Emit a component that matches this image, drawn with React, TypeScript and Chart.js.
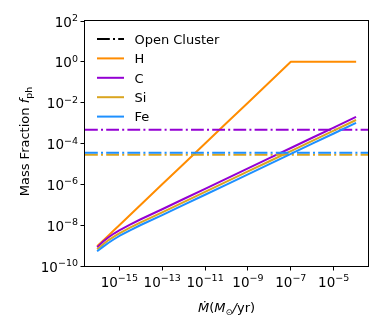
import React, { useEffect, useRef } from "react";
import { Chart, registerables } from "chart.js";

Chart.register(...registerables);

// ---------- data ----------
const mdot = [
  1e-16, 1.78e-16, 3.16e-16, 5.62e-16, 1e-15, 3.16e-15, 1e-14, 1e-13, 1e-12,
  1e-11, 1e-10, 1e-9, 1e-8, 1e-7, 1e-6, 1e-5, 1e-4,
];
const fH = [
  1e-9, 1.78e-9, 3.16e-9, 5.62e-9, 1e-8, 3.16e-8, 1e-7, 1e-6, 1e-5, 1e-4,
  1e-3, 1e-2, 1e-1, 1, 1, 1, 1,
];
const fC = [
  8.91e-10, 1.58e-9, 2.57e-9, 3.89e-9, 5.62e-9, 1.07e-8, 1.95e-8, 6.03e-8,
  1.91e-7, 6.03e-7, 1.91e-6, 6.03e-6, 1.91e-5, 6.03e-5, 1.91e-4, 6.03e-4,
  1.91e-3,
];
const fSi = [
  7.08e-10, 1.17e-9, 1.86e-9, 2.75e-9, 3.98e-9, 7.59e-9, 1.38e-8, 4.27e-8,
  1.35e-7, 4.27e-7, 1.35e-6, 4.27e-6, 1.35e-5, 4.27e-5, 1.35e-4, 4.27e-4,
  1.35e-3,
];
const fFe = [
  5.62e-10, 8.91e-10, 1.38e-9, 2.04e-9, 2.95e-9, 5.62e-9, 1.02e-8, 3.09e-8,
  9.77e-8, 3.09e-7, 9.77e-7, 3.09e-6, 9.77e-6, 3.09e-5, 9.77e-5, 3.09e-4,
  9.77e-4,
];
const openClusterC = 4.7e-4;
const openClusterSi = 2.8e-5;
const openClusterFe = 3.5e-5;

const xLimits = [2.51e-17, 3.98e-4];
const yLimits = [1e-10, 1e2];
const xTickExponents = [-15, -13, -11, -9, -7, -5];
const yTickExponents = [-10, -8, -6, -4, -2, 0, 2];
const legendLabels = ["Open Cluster", "H", "C", "Si", "Fe"];

// ---------- styles ----------
const COLORS = {
  H: "#ff8c00",
  C: "#9400d3",
  Si: "#daa520",
  Fe: "#1e90ff",
};
const DASHDOT = [12.8, 3.2, 2, 3.2];
const FONT = '"DejaVu Sans"';
const W = 382;
const H = 334;

type Run = { t: string; font: string; dy?: number };

function drawRuns(
  ctx: CanvasRenderingContext2D,
  runs: Run[],
  x: number,
  y: number,
  align: "left" | "center" | "right"
) {
  let w = 0;
  for (const r of runs) {
    ctx.font = r.font;
    w += ctx.measureText(r.t).width;
  }
  let cx = align === "left" ? x : align === "center" ? x - w / 2 : x - w;
  ctx.textAlign = "left";
  ctx.textBaseline = "alphabetic";
  for (const r of runs) {
    ctx.font = r.font;
    ctx.fillText(r.t, cx, y + (r.dy || 0));
    cx += ctx.measureText(r.t).width;
  }
}

function expText(e: number) {
  return (e < 0 ? "\u2212" : "") + String(Math.abs(e));
}

function powerRuns(e: number): Run[] {
  return [
    { t: "10", font: `13.5px ${FONT}` },
    { t: expText(e), font: `9.5px ${FONT}`, dy: -5.5 },
  ];
}

const decorPlugin = {
  id: "decor",
  afterDatasetsDraw(chart: any) {
    const ctx: CanvasRenderingContext2D = chart.ctx;
    const { left, right, top, bottom } = chart.chartArea;
    ctx.save();
    ctx.strokeStyle = "#000";
    ctx.lineWidth = 1;
    ctx.strokeRect(left - 0.5, top - 0.5, right - left + 1, bottom - top + 1);
    ctx.restore();
  },
  afterDraw(chart: any) {
    const ctx: CanvasRenderingContext2D = chart.ctx;
    const xs = chart.scales.x;
    const ys = chart.scales.y;
    const { left, right, top, bottom } = chart.chartArea;
    ctx.save();
    ctx.fillStyle = "#000";

    // x tick labels
    for (const e of xTickExponents) {
      const px = xs.getPixelForValue(Math.pow(10, e));
      drawRuns(ctx, powerRuns(e), px, bottom + 20.5, "center");
    }
    // y tick labels
    for (const e of yTickExponents) {
      const py = ys.getPixelForValue(Math.pow(10, e));
      drawRuns(ctx, powerRuns(e), left - 7, py + 5.5, "right");
    }

    // x axis title
    const it = `italic 13px ${FONT}`;
    const rm = `13px ${FONT}`;
    drawRuns(
      ctx,
      [
        { t: "\u1E40", font: it },
        { t: "(", font: rm },
        { t: "M", font: it },
        { t: "\u2299", font: `8.5px ${FONT}`, dy: 2.5 },
        { t: "/", font: it },
        { t: "yr", font: rm },
        { t: ")", font: rm },
      ],
      (left + right) / 2,
      312,
      "center"
    );

    // y axis title (rotated)
    ctx.save();
    ctx.translate(29, (top + bottom) / 2 - 2);
    ctx.rotate(-Math.PI / 2);
    drawRuns(
      ctx,
      [
        { t: "Mass Fraction ", font: rm },
        { t: "f", font: it },
        { t: "ph", font: `9.5px ${FONT}`, dy: 3 },
      ],
      0,
      0,
      "center"
    );
    ctx.restore();

    // legend
    const handleX0 = 97;
    const handleX1 = 124;
    const textX = 134.4;
    const rowY0 = 39;
    const rowStep = 19.4;
    const legendColors = ["#000", COLORS.H, COLORS.C, COLORS.Si, COLORS.Fe];
    legendLabels.forEach((label, i) => {
      const y = rowY0 + rowStep * i;
      ctx.save();
      ctx.strokeStyle = legendColors[i];
      ctx.lineWidth = 2;
      if (i === 0) {
        ctx.setLineDash(DASHDOT);
        ctx.lineCap = "butt";
      } else {
        ctx.lineCap = "butt";
      }
      ctx.beginPath();
      ctx.moveTo(handleX0, y);
      ctx.lineTo(handleX1, y);
      ctx.stroke();
      ctx.restore();
      ctx.fillStyle = "#000";
      drawRuns(ctx, [{ t: label, font: `13px ${FONT}` }], textX, y + 4.7, "left");
    });

    ctx.restore();
  },
};

function lineData(ys: number[]) {
  return mdot.map((x, i) => ({ x, y: ys[i] }));
}
function hLine(y: number) {
  return [
    { x: xLimits[0], y },
    { x: xLimits[1], y },
  ];
}

export default function App() {
  const canvasRef = useRef<HTMLCanvasElement | null>(null);

  useEffect(() => {
    const canvas = canvasRef.current;
    if (!canvas) return;
    const solid = (label: string, data: any, color: string, order: number) => ({
      label,
      data,
      borderColor: color,
      backgroundColor: color,
      borderWidth: 2,
      pointRadius: 0,
      tension: 0,
      fill: false,
      borderCapStyle: "square",
      borderJoinStyle: "round",
      order,
    });
    const dashed = (label: string, data: any, color: string, order: number) => ({
      label,
      data,
      borderColor: color,
      backgroundColor: color,
      borderWidth: 2,
      pointRadius: 0,
      tension: 0,
      fill: false,
      borderDash: DASHDOT,
      borderCapStyle: "butt",
      order,
    });

    const chart = new Chart(canvas, {
      type: "line",
      data: {
        datasets: [
          solid("H", lineData(fH), COLORS.H, 7),
          solid("C", lineData(fC), COLORS.C, 6),
          dashed("C open cluster", hLine(openClusterC), COLORS.C, 5),
          solid("Si", lineData(fSi), COLORS.Si, 4),
          dashed("Si open cluster", hLine(openClusterSi), COLORS.Si, 3),
          solid("Fe", lineData(fFe), COLORS.Fe, 2),
          dashed("Fe open cluster", hLine(openClusterFe), COLORS.Fe, 1),
        ] as any,
      },
      options: {
        animation: false,
        responsive: false,
        devicePixelRatio: 1,
        layout: { padding: { left: 0, right: 14, top: 21, bottom: 0 } },
        plugins: {
          legend: { display: false },
          tooltip: { enabled: false },
        },
        scales: {
          x: {
            type: "logarithmic",
            min: xLimits[0],
            max: xLimits[1],
            bounds: "data",
            afterFit: (s: any) => {
              s.height = 68;
            },
            afterBuildTicks: (s: any) => {
              s.ticks = xTickExponents.map((e) => ({ value: Math.pow(10, e) }));
            },
            ticks: { display: false },
            grid: {
              display: true,
              drawOnChartArea: false,
              drawTicks: true,
              tickLength: 4.5,
              color: "#000",
              lineWidth: 1,
            },
            border: { display: false },
          },
          y: {
            type: "logarithmic",
            min: yLimits[0],
            max: yLimits[1],
            bounds: "data",
            afterFit: (s: any) => {
              s.width = 85;
            },
            afterBuildTicks: (s: any) => {
              s.ticks = yTickExponents.map((e) => ({ value: Math.pow(10, e) }));
            },
            ticks: { display: false },
            grid: {
              display: true,
              drawOnChartArea: false,
              drawTicks: true,
              tickLength: 4.5,
              color: "#000",
              lineWidth: 1,
            },
            border: { display: false },
          },
        } as any,
      },
      plugins: [decorPlugin],
    });
    return () => chart.destroy();
  }, []);

  return (
    <div
      style={{
        position: "fixed",
        left: 0,
        top: 0,
        width: W,
        height: H,
        background: "#fff",
      }}
    >
      <canvas ref={canvasRef} width={W} height={H} style={{ width: W, height: H }} />
    </div>
  );
}
